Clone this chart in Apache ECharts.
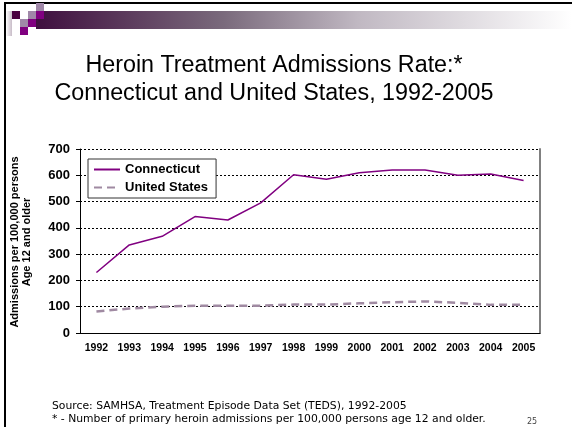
<!DOCTYPE html>
<html>
<head>
<meta charset="utf-8">
<script src="https://cdn.jsdelivr.net/npm/echarts@6/dist/echarts.min.js"></script>
<style>
  html, body { margin: 0; padding: 0; background: #fff; }
  #chart { width: 572px; height: 427px; }
</style>
</head>
<body>
<div id="chart"></div>
<script>
// 数据
const years = ['1992', '1993', '1994', '1995', '1996', '1997', '1998', '1999', '2000', '2001', '2002', '2003', '2004', '2005']
const connecticut = [230, 335, 368, 443, 430, 495, 602, 585, 610, 620, 620, 600, 605, 580]
const unitedStates = [82, 93, 100, 104, 104, 104, 108, 108, 113, 117, 120, 115, 107, 107]
const yTicks = [0, 100, 200, 300, 400, 500, 600, 700]

const chart = echarts.init(document.getElementById('chart'), null, { renderer: 'canvas' })

// 幻灯片顶部的装饰小方块
const squares = [
  [12, 11, '#4a0040'], [20, 19, '#a088a8'], [28, 11, '#a088a8'], [28, 19, '#800080'],
  [36, 3, '#a088a8'], [36, 11, '#800080'], [20, 27, '#800080']
].map(s => ({
  type: 'rect',
  shape: { x: s[0], y: s[1], width: 8, height: 8 },
  style: { fill: s[2] },
  z: 10
}))

const option = {
  animation: false,
  backgroundColor: '#fff',
  textStyle: { fontFamily: 'Liberation Sans, Arial, sans-serif' },
  graphic: [
    // 边框
    { type: 'line', shape: { x1: 4, y1: 3, x2: 572, y2: 3 }, style: { stroke: '#000', lineWidth: 2 } },
    { type: 'line', shape: { x1: 5, y1: 3, x2: 5, y2: 427 }, style: { stroke: '#000', lineWidth: 2 } },
    {
      type: 'rect',
      shape: { x: 36, y: 11, width: 536, height: 18 },
      style: {
        fill: new echarts.graphic.LinearGradient(0, 0, 1, 0, [
          { offset: 0, color: '#3f0f3f' },
          { offset: 0.35, color: '#7a6a7c' },
          { offset: 0.6, color: '#c0b8c2' },
          { offset: 1, color: '#ffffff' }
        ])
      }
    },
    {
      type: 'rect',
      shape: { x: 6, y: 11, width: 6, height: 25 },
      style: {
        fill: new echarts.graphic.LinearGradient(0, 0, 1, 0, [
          { offset: 0, color: '#ffffff' },
          { offset: 1, color: '#c8bcc8' }
        ])
      }
    },
    ...squares,
    // 标题
    {
      type: 'text',
      x: 274,
      y: 52,
      style: {
        text: 'Heroin Treatment Admissions Rate:*\nConnecticut and United States, 1992-2005',
        font: '23.3px Liberation Sans, Arial, sans-serif',
        fill: '#000',
        align: 'center',
        lineHeight: 28
      }
    },
    // Y轴名称
    {
      type: 'text',
      x: 21,
      y: 242,
      rotation: Math.PI / 2,
      style: {
        text: 'Admissions per 100,000 persons\nAge 12 and older',
        font: 'bold 11px Liberation Sans, Arial, sans-serif',
        fill: '#000',
        align: 'center',
        verticalAlign: 'middle',
        lineHeight: 12
      }
    },
    // 脚注
    {
      type: 'text',
      x: 52,
      y: 400,
      style: {
        text: 'Source: SAMHSA, Treatment Episode Data Set (TEDS), 1992-2005\n* - Number of primary heroin admissions per 100,000 persons age 12 and older.',
        font: '10.8px DejaVu Sans, sans-serif',
        fill: '#000',
        lineHeight: 13
      }
    },
    {
      type: 'text',
      x: 527,
      y: 418,
      style: { text: '25', font: '8px DejaVu Sans, sans-serif', fill: '#444' }
    }
  ],
  legend: {
    left: 88,
    top: 159,
    orient: 'vertical',
    backgroundColor: '#fff',
    borderColor: '#333',
    borderWidth: 1,
    padding: [4, 8, 4, 5],
    itemGap: 5,
    itemWidth: 26,
    itemHeight: 14,
    itemStyle: { opacity: 0 },
    textStyle: { fontWeight: 'bold', fontSize: 13, color: '#000' },
    data: ['Connecticut', 'United States']
  },
  grid: { left: 80, right: 32, top: 149, bottom: 94 },
  xAxis: {
    type: 'category',
    data: years,
    boundaryGap: true,
    axisLine: { lineStyle: { color: '#000', width: 1 } },
    axisTick: { length: 4, lineStyle: { color: '#000' } },
    axisLabel: { fontWeight: 'bold', fontSize: 10.5, color: '#000', margin: 10 }
  },
  yAxis: [
    {
      type: 'value',
      min: yTicks[0],
      max: yTicks[yTicks.length - 1],
      interval: 100,
      axisLine: { show: true, lineStyle: { color: '#000' } },
      axisTick: { show: true, length: 4, lineStyle: { color: '#000' } },
      axisLabel: { fontWeight: 'bold', fontSize: 13, color: '#000', margin: 10 },
      splitLine: { lineStyle: { type: [2, 2], color: '#000', width: 1 } }
    },
    {
      type: 'value',
      position: 'right',
      min: yTicks[0],
      max: yTicks[yTicks.length - 1],
      interval: 100,
      axisLine: { show: true, lineStyle: { color: '#808080', width: 2 } },
      axisTick: { show: false },
      axisLabel: { show: false },
      splitLine: { show: false }
    }
  ],
  series: [
    {
      name: 'Connecticut',
      type: 'line',
      data: connecticut,
      symbol: 'none',
      lineStyle: { color: '#800080', width: 1.5 },
      itemStyle: { color: '#800080' }
    },
    {
      name: 'United States',
      type: 'line',
      data: unitedStates,
      symbol: 'none',
      lineStyle: { color: '#a08aa2', width: 2.5, type: [8, 5] },
      itemStyle: { color: '#a08aa2' }
    }
  ]
}

chart.setOption(option)
</script>
</body>
</html>
